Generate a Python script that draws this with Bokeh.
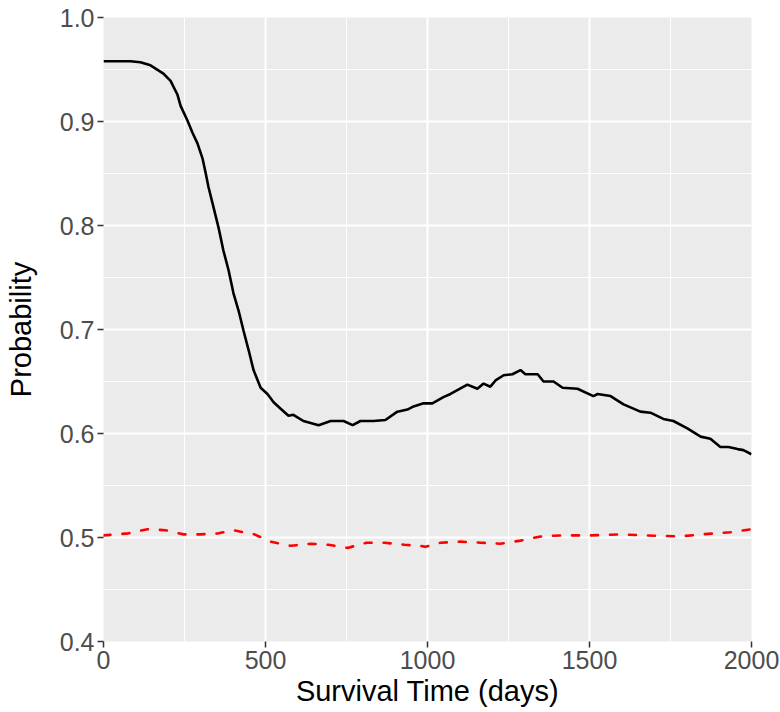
from bokeh.plotting import figure
from bokeh.models import FixedTicker, PrintfTickFormatter, Range1d
from bokeh.embed import file_html
from bokeh.resources import INLINE

# Black curve (solid)
time_black = [0, 83, 114, 145, 185, 207, 228, 238, 259, 275, 290, 306, 315, 324, 340, 355, 370,
              386, 401, 417, 432, 448, 463, 485, 506, 525, 546, 571, 586, 617, 664, 701, 741,
              769, 793, 833, 870, 907, 938, 957, 988, 1015, 1049, 1071, 1123, 1154, 1173, 1194,
              1210, 1235, 1262, 1287, 1302, 1340, 1358, 1389, 1417, 1463, 1512, 1525, 1565,
              1605, 1657, 1688, 1728, 1759, 1802, 1843, 1873, 1904, 1929, 1957, 1975, 2000]
prob_black = [0.958, 0.958, 0.957, 0.954, 0.946, 0.939, 0.926, 0.915, 0.901, 0.889, 0.879, 0.864,
              0.851, 0.837, 0.817, 0.798, 0.776, 0.757, 0.735, 0.718, 0.699, 0.680, 0.661, 0.644,
              0.638, 0.630, 0.624, 0.617, 0.618, 0.612, 0.608, 0.612, 0.612, 0.608, 0.612, 0.612,
              0.613, 0.621, 0.623, 0.626, 0.629, 0.629, 0.635, 0.638, 0.647, 0.643, 0.648, 0.645,
              0.651, 0.656, 0.657, 0.661, 0.657, 0.657, 0.650, 0.650, 0.644, 0.643, 0.636, 0.638,
              0.636, 0.628, 0.621, 0.620, 0.614, 0.612, 0.605, 0.597, 0.595, 0.587, 0.587, 0.585,
              0.584, 0.580]

# Red curve (dashed)
time_red = [0, 77, 136, 191, 247, 299, 355, 401, 466, 515, 577, 639, 694, 753, 812, 867, 929,
            978, 994, 1040, 1102, 1164, 1225, 1287, 1349, 1410, 1503, 1596, 1673, 1781, 1843,
            1935, 2000]
prob_red = [0.502, 0.504, 0.508, 0.507, 0.503, 0.503, 0.504, 0.507, 0.503, 0.496, 0.492, 0.494,
            0.493, 0.490, 0.495, 0.495, 0.493, 0.492, 0.491, 0.495, 0.496, 0.495, 0.494, 0.497,
            0.501, 0.502, 0.502, 0.503, 0.502, 0.501, 0.503, 0.505, 0.508]

x_ticks = [0, 500, 1000, 1500, 2000]
x_minor = [250, 750, 1250, 1750]
y_ticks = [0.4, 0.5, 0.6, 0.7, 0.8, 0.9, 1.0]
y_minor = [0.45, 0.55, 0.65, 0.75, 0.85, 0.95]

FONT = "Liberation Sans"

p = figure(width=780, height=712, output_backend="svg", toolbar_location=None,
           x_range=Range1d(0, 2000), y_range=Range1d(0.4, 1.0))
p.min_border_left = 103
p.min_border_right = 29
p.min_border_top = 17
p.min_border_bottom = 71
p.background_fill_color = "#EBEBEB"
p.border_fill_color = "white"
p.outline_line_color = None

p.xaxis.ticker = FixedTicker(ticks=x_ticks, minor_ticks=x_minor)
p.yaxis.ticker = FixedTicker(ticks=y_ticks, minor_ticks=y_minor)
p.yaxis.formatter = PrintfTickFormatter(format="%.1f")

for ax in (p.xaxis[0], p.yaxis[0]):
    ax.axis_line_color = None
    ax.major_tick_line_color = "#333333"
    ax.major_tick_line_width = 1.5
    ax.major_tick_out = 6
    ax.major_tick_in = 0
    ax.minor_tick_line_color = None
    ax.major_label_text_font = FONT
    ax.major_label_text_font_size = "25px"
    ax.major_label_text_color = "#4D4D4D"
    ax.major_label_standoff = 3
    ax.axis_label_text_font = FONT
    ax.axis_label_text_font_size = "29px"
    ax.axis_label_text_font_style = "normal"
    ax.axis_label_text_color = "black"

p.xaxis.axis_label = "Survival Time (days)"
p.yaxis.axis_label = "Probability"
p.xaxis.axis_label_standoff = 3
p.yaxis.axis_label_standoff = 20

for g in (p.xgrid[0], p.ygrid[0]):
    g.grid_line_color = "white"
    g.grid_line_width = 2
    g.minor_grid_line_color = "white"
    g.minor_grid_line_width = 1

p.line(time_black, prob_black, line_color="black", line_width=2.6)
p.line(time_red, prob_red, line_color="red", line_width=2.6, line_dash="7 12", line_cap="round")

open("out.html", "w").write(file_html(p, INLINE))
